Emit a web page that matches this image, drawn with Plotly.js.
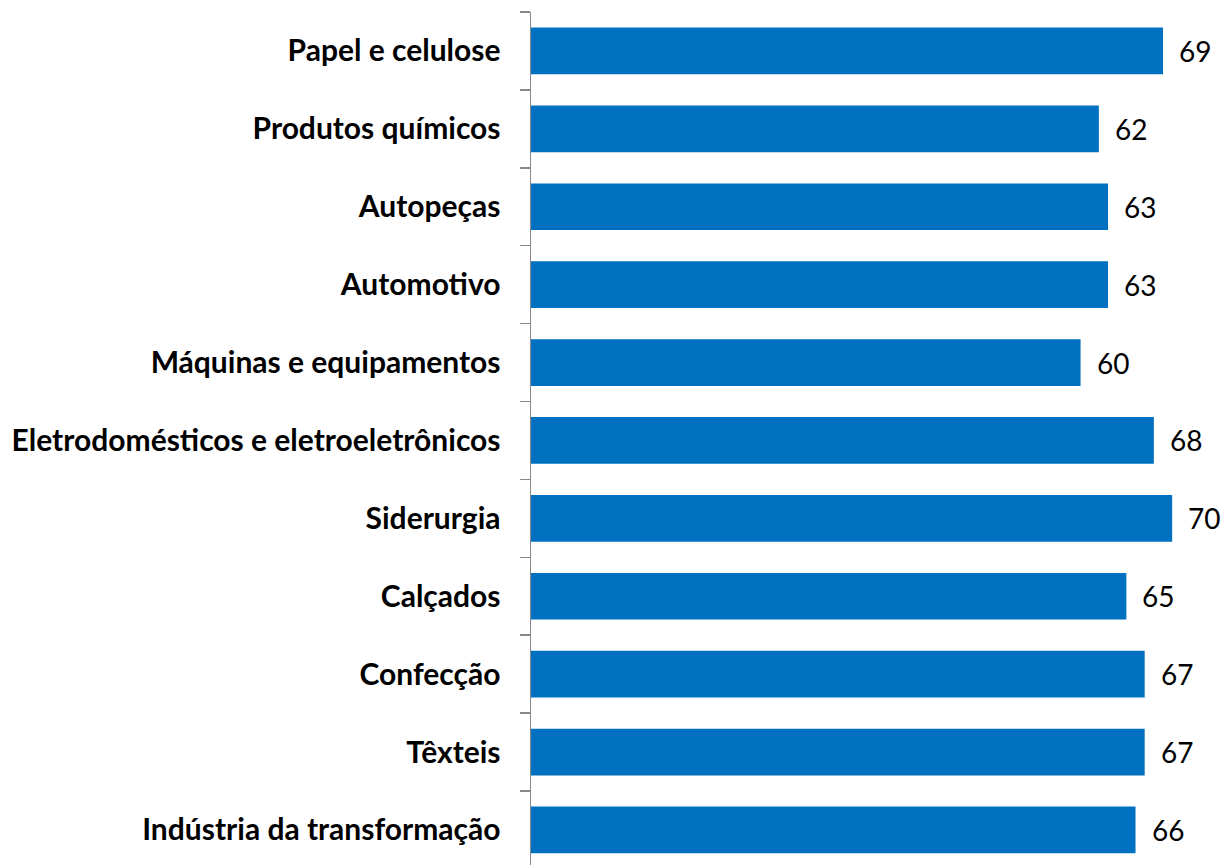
<!DOCTYPE html>
<html><head><meta charset="utf-8">
<script src="https://cdn.plot.ly/plotly-3.0.1.min.js"></script>
<style>html,body{margin:0;padding:0;background:#fff}</style>
</head><body>
<div id="chart" style="width:1224px;height:865px"></div>
<script>
const categories = ["Indústria da transformação","Têxteis","Confecção","Calçados","Siderurgia","Eletrodomésticos e eletroeletrônicos","Máquinas e equipamentos","Automotivo","Autopeças","Produtos químicos","Papel e celulose"];
const values = [66,67,67,65,70,68,60,63,63,62,69];

const trace = {
  type: 'bar', orientation: 'h',
  x: values, y: categories,
  marker: {color: '#0070C0'},
  width: 0.6,
  hoverinfo: 'none'
};
const annotations = values.map((v,i)=>({
  x: v, y: categories[i], xref:'x', yref:'y', text: String(v),
  showarrow:false, xanchor:'left', yanchor:'middle', xshift: 14,
  font:{family:'Lato, sans-serif', size:28, color:'#000'}
}));
const layout = {
  width:1224, height:865,
  margin:{l:531,r:0,t:12,b:0,pad:0},
  paper_bgcolor:'#fff', plot_bgcolor:'#fff',
  showlegend:false,
  xaxis:{range:[0,75.66], visible:false, fixedrange:true},
  yaxis:{type:'category', range:[-0.45,10.5], showline:true, linecolor:'#888', linewidth:1.5,
         ticks:'outside', ticklen:10, tickcolor:'#888', tickwidth:1.5, tickson:'boundaries',
         showgrid:false, zeroline:false, ticklabelstandoff:23,
         tickfont:{family:'Lato, sans-serif', size:30, color:'#000', weight:'bold'}},
  annotations: annotations
};
Plotly.newPlot('chart',[trace],layout,{displayModeBar:false, staticPlot:true});
</script>
</body></html>
